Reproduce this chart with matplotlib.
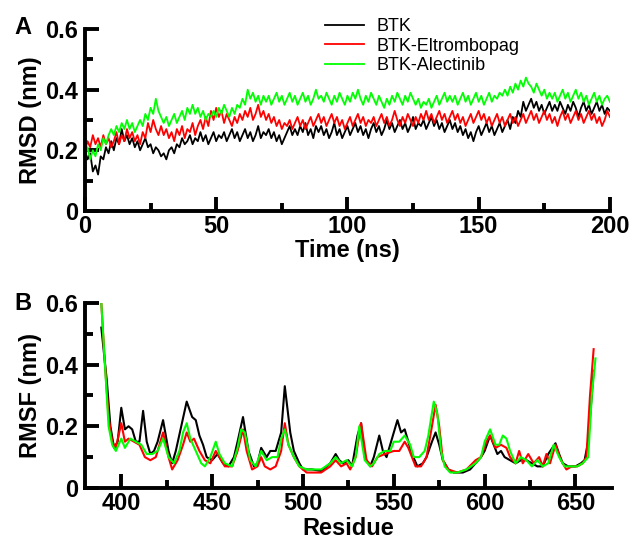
import numpy as np
import matplotlib
matplotlib.use("Agg")
import matplotlib.pyplot as plt
from matplotlib.ticker import MultipleLocator

plt.rcParams['font.family'] = ['Liberation Sans', 'DejaVu Sans']

# ---- RMSD data (nm), 1 ns steps, 0..200 ns ----
time_ns = np.arange(0, 201)

rmsd_btk = [
    0.20, 0.17, 0.19, 0.13, 0.15, 0.12, 0.18, 0.17, 0.21, 0.19,
    0.23, 0.20, 0.24, 0.22, 0.27, 0.23, 0.25, 0.22, 0.24, 0.21,
    0.23, 0.20, 0.22, 0.24, 0.21, 0.22, 0.19, 0.21, 0.20, 0.18,
    0.19, 0.17, 0.20, 0.21, 0.19, 0.22, 0.21, 0.24, 0.22, 0.23,
    0.25, 0.22, 0.24, 0.23, 0.26, 0.23, 0.25, 0.22, 0.24, 0.26,
    0.23, 0.25, 0.24, 0.26, 0.23, 0.25, 0.27, 0.24, 0.26, 0.23,
    0.25, 0.27, 0.24, 0.26, 0.23, 0.25, 0.28, 0.24, 0.26, 0.25,
    0.27, 0.24, 0.26, 0.23, 0.25, 0.22, 0.24, 0.26, 0.28, 0.25,
    0.27, 0.25, 0.28, 0.26, 0.29, 0.25, 0.27, 0.24, 0.28, 0.26,
    0.28, 0.25, 0.27, 0.24, 0.26, 0.29, 0.25, 0.27, 0.24, 0.26,
    0.28, 0.25, 0.27, 0.29, 0.26, 0.28, 0.25, 0.27, 0.24, 0.27,
    0.29, 0.26, 0.28, 0.25, 0.27, 0.30, 0.27, 0.29, 0.26, 0.28,
    0.30, 0.27, 0.29, 0.26, 0.28, 0.31, 0.27, 0.29, 0.28, 0.30,
    0.27, 0.29, 0.31, 0.28, 0.30, 0.27, 0.29, 0.26, 0.28, 0.30,
    0.27, 0.29, 0.26, 0.28, 0.25, 0.27, 0.24, 0.26, 0.23, 0.26,
    0.28, 0.25, 0.27, 0.29, 0.26, 0.28, 0.25, 0.27, 0.29, 0.26,
    0.28, 0.30, 0.27, 0.31, 0.29, 0.33, 0.31, 0.36, 0.33, 0.35,
    0.37, 0.34, 0.36, 0.33, 0.35, 0.32, 0.34, 0.36, 0.33, 0.35,
    0.33, 0.36, 0.34, 0.32, 0.35, 0.33, 0.36, 0.34, 0.31, 0.34,
    0.36, 0.33, 0.35, 0.32, 0.34, 0.36, 0.33, 0.35, 0.32, 0.34,
    0.33,
]

rmsd_eltrombopag = [
    0.20, 0.23, 0.21, 0.25, 0.22, 0.24, 0.21, 0.25, 0.22, 0.24,
    0.21, 0.23, 0.26, 0.22, 0.25, 0.23, 0.27, 0.24, 0.26, 0.23,
    0.25, 0.22, 0.26, 0.24, 0.29, 0.26, 0.30, 0.27, 0.25, 0.28,
    0.25, 0.27, 0.24, 0.26, 0.23, 0.27, 0.25, 0.28, 0.24, 0.27,
    0.26, 0.29, 0.25, 0.28, 0.30, 0.27, 0.31, 0.28, 0.33, 0.30,
    0.34, 0.31, 0.33, 0.29, 0.32, 0.30, 0.28, 0.31, 0.29, 0.32,
    0.30, 0.33, 0.31, 0.34, 0.30, 0.32, 0.35, 0.31, 0.33, 0.30,
    0.32, 0.29, 0.31, 0.28, 0.30, 0.27, 0.29, 0.28, 0.30, 0.27,
    0.29, 0.31, 0.28, 0.30, 0.27, 0.29, 0.31, 0.28, 0.30, 0.32,
    0.29, 0.31, 0.28, 0.30, 0.32, 0.29, 0.31, 0.28, 0.30, 0.27,
    0.29, 0.31, 0.28, 0.30, 0.32, 0.29, 0.31, 0.28, 0.30, 0.29,
    0.31, 0.28, 0.30, 0.32, 0.29, 0.31, 0.28, 0.30, 0.33, 0.30,
    0.28, 0.31, 0.29, 0.32, 0.30, 0.28, 0.31, 0.29, 0.32, 0.30,
    0.33, 0.30, 0.32, 0.29, 0.31, 0.33, 0.30, 0.32, 0.29, 0.31,
    0.33, 0.30, 0.32, 0.29, 0.31, 0.28, 0.30, 0.32, 0.29, 0.31,
    0.33, 0.30, 0.32, 0.29, 0.31, 0.28, 0.30, 0.32, 0.29, 0.31,
    0.28, 0.30, 0.32, 0.29, 0.31, 0.28, 0.30, 0.32, 0.29, 0.31,
    0.33, 0.30, 0.32, 0.29, 0.31, 0.33, 0.30, 0.32, 0.29, 0.31,
    0.28, 0.31, 0.33, 0.30, 0.32, 0.29, 0.31, 0.33, 0.30, 0.32,
    0.29, 0.31, 0.33, 0.30, 0.32, 0.29, 0.31, 0.28, 0.30, 0.33,
    0.31,
]

rmsd_alectinib = [
    0.18, 0.21, 0.17, 0.20, 0.18, 0.22, 0.20, 0.24, 0.22, 0.25,
    0.27, 0.25, 0.28, 0.26, 0.29, 0.27, 0.30, 0.27, 0.29, 0.26,
    0.28, 0.30, 0.28, 0.32, 0.30, 0.34, 0.32, 0.37, 0.33, 0.31,
    0.29, 0.31, 0.28, 0.30, 0.32, 0.29, 0.31, 0.33, 0.30, 0.34,
    0.32, 0.35, 0.32, 0.34, 0.31, 0.33, 0.30, 0.32, 0.31, 0.33,
    0.31, 0.34, 0.32, 0.35, 0.33, 0.31, 0.34, 0.32, 0.35, 0.34,
    0.37, 0.35, 0.40, 0.37, 0.39, 0.36, 0.38, 0.35, 0.38, 0.36,
    0.38, 0.35, 0.37, 0.39, 0.36, 0.38, 0.35, 0.37, 0.39, 0.36,
    0.38, 0.35, 0.37, 0.39, 0.36, 0.38, 0.35, 0.37, 0.40, 0.37,
    0.38, 0.36, 0.39, 0.37, 0.35, 0.38, 0.36, 0.39, 0.37, 0.35,
    0.38, 0.36, 0.39, 0.37, 0.40, 0.37, 0.35, 0.38, 0.36, 0.39,
    0.37, 0.35, 0.38, 0.36, 0.34, 0.37, 0.35, 0.38, 0.36, 0.39,
    0.37, 0.35, 0.38, 0.36, 0.39, 0.37, 0.35, 0.37, 0.34, 0.36,
    0.35, 0.37, 0.34, 0.36, 0.38, 0.35, 0.37, 0.39, 0.36, 0.38,
    0.36, 0.38, 0.35, 0.37, 0.39, 0.36, 0.38, 0.35, 0.37, 0.39,
    0.36, 0.38, 0.35, 0.37, 0.39, 0.36, 0.38, 0.37, 0.39, 0.38,
    0.40, 0.38, 0.41, 0.39, 0.42, 0.40, 0.43, 0.41, 0.44, 0.42,
    0.41, 0.39, 0.42, 0.40, 0.38, 0.40, 0.37, 0.39, 0.37, 0.39,
    0.36, 0.38, 0.40, 0.37, 0.39, 0.36, 0.38, 0.40, 0.37, 0.39,
    0.36, 0.38, 0.35, 0.37, 0.39, 0.36, 0.38, 0.35, 0.37, 0.38,
    0.36,
]

# ---- RMSF data (nm) per residue ----
res_btk = [389, 392, 394, 396, 398, 400, 402, 404, 406, 408, 410, 412, 414, 416, 418,
           420, 423, 426, 428, 430, 433, 436, 439, 441, 443, 445, 447, 450, 453, 456,
           459, 462, 464, 467, 470, 473, 475, 477, 480, 482, 485, 488, 490, 493, 495,
           498, 500, 505, 510, 515, 518, 520, 522, 525, 527, 530, 532, 534, 537, 539,
           542, 544, 546, 548, 552, 554, 556, 558, 560, 563, 566, 568, 571, 573, 575,
           577, 580, 583, 588, 592, 595, 598, 600, 603, 605, 607, 609, 611, 614, 617,
           620, 623, 626, 629, 632, 635, 639, 641, 643, 646, 650, 653, 655, 657, 660]
rmsf_btk = [0.52, 0.35, 0.20, 0.13, 0.15, 0.26, 0.19, 0.20, 0.19, 0.15, 0.15, 0.25, 0.15, 0.11, 0.12,
            0.15, 0.22, 0.12, 0.08, 0.12, 0.20, 0.28, 0.23, 0.22, 0.17, 0.14, 0.10, 0.09, 0.11, 0.08,
            0.07, 0.10, 0.15, 0.23, 0.12, 0.07, 0.08, 0.13, 0.10, 0.12, 0.12, 0.18, 0.33, 0.18, 0.12,
            0.08, 0.06, 0.06, 0.055, 0.08, 0.11, 0.09, 0.08, 0.09, 0.07, 0.17, 0.21, 0.10, 0.07, 0.10,
            0.17, 0.12, 0.10, 0.14, 0.22, 0.18, 0.19, 0.15, 0.11, 0.07, 0.08, 0.10, 0.15, 0.18, 0.14,
            0.09, 0.06, 0.05, 0.05, 0.06, 0.08, 0.10, 0.12, 0.17, 0.14, 0.11, 0.12, 0.10, 0.09, 0.08,
            0.09, 0.09, 0.08, 0.07, 0.07, 0.11, 0.145, 0.11, 0.08, 0.07, 0.07, 0.08, 0.09, 0.15, 0.38]

res_elt = [389, 391, 393, 395, 397, 400, 402, 404, 407, 410, 413, 416, 419, 423, 426,
           428, 431, 434, 436, 438, 440, 443, 446, 449, 452, 454, 457, 461, 464, 467,
           469, 472, 475, 477, 479, 482, 485, 488, 490, 492, 495, 498, 502, 506, 510,
           515, 518, 521, 524, 526, 529, 532, 535, 538, 541, 545, 550, 553, 556, 558,
           562, 565, 568, 571, 573, 575, 577, 580, 585, 590, 595, 598, 601, 603, 606,
           609, 612, 614, 617, 619, 621, 624, 627, 630, 632, 634, 636, 639, 642, 645,
           648, 651, 654, 656, 658, 660]
rmsf_elt = [0.60, 0.40, 0.23, 0.15, 0.13, 0.21, 0.15, 0.16, 0.15, 0.14, 0.10, 0.09, 0.10, 0.18, 0.10,
            0.06, 0.09, 0.14, 0.18, 0.15, 0.16, 0.12, 0.09, 0.08, 0.12, 0.10, 0.07, 0.07, 0.12, 0.19,
            0.12, 0.06, 0.07, 0.10, 0.07, 0.06, 0.07, 0.12, 0.21, 0.14, 0.10, 0.07, 0.05, 0.05, 0.05,
            0.07, 0.09, 0.07, 0.08, 0.06, 0.10, 0.21, 0.09, 0.07, 0.10, 0.11, 0.12, 0.12, 0.15, 0.13,
            0.07, 0.07, 0.10, 0.20, 0.27, 0.20, 0.09, 0.06, 0.05, 0.06, 0.09, 0.10, 0.15, 0.17, 0.13,
            0.14, 0.13, 0.10, 0.08, 0.12, 0.08, 0.11, 0.08, 0.10, 0.07, 0.11, 0.08, 0.14, 0.09, 0.06,
            0.07, 0.07, 0.08, 0.10, 0.30, 0.45]

res_ale = [389, 391, 393, 395, 397, 400, 402, 405, 408, 411, 414, 417, 420, 423, 426,
           429, 432, 434, 436, 438, 441, 444, 446, 449, 452, 454, 457, 461, 464, 466,
           468, 471, 474, 477, 480, 483, 486, 488, 490, 492, 495, 498, 502, 506, 510,
           515, 518, 521, 524, 527, 529, 531, 534, 537, 539, 542, 545, 548, 550, 553,
           556, 559, 561, 564, 567, 569, 572, 574, 576, 578, 581, 585, 590, 595, 598,
           600, 603, 606, 608, 610, 612, 614, 617, 620, 623, 626, 629, 632, 635, 638,
           641, 644, 648, 651, 654, 657, 659, 661]
rmsf_ale = [0.60, 0.40, 0.20, 0.14, 0.12, 0.16, 0.13, 0.16, 0.15, 0.14, 0.11, 0.11, 0.12, 0.16, 0.10,
            0.08, 0.12, 0.18, 0.21, 0.16, 0.12, 0.08, 0.07, 0.10, 0.15, 0.11, 0.08, 0.07, 0.13, 0.19,
            0.18, 0.09, 0.07, 0.12, 0.09, 0.10, 0.10, 0.16, 0.19, 0.14, 0.10, 0.07, 0.06, 0.06, 0.06,
            0.08, 0.10, 0.08, 0.09, 0.07, 0.10, 0.20, 0.09, 0.07, 0.08, 0.11, 0.12, 0.12, 0.15, 0.15,
            0.17, 0.14, 0.10, 0.10, 0.12, 0.17, 0.28, 0.24, 0.12, 0.07, 0.05, 0.05, 0.06, 0.08, 0.10,
            0.15, 0.19, 0.14, 0.14, 0.17, 0.16, 0.12, 0.08, 0.10, 0.09, 0.07, 0.09, 0.07, 0.08, 0.14,
            0.10, 0.07, 0.07, 0.07, 0.08, 0.10, 0.30, 0.42]

labels = ["BTK", "BTK-Eltrombopag", "BTK-Alectinib"]
colors = ["black", "#ff0000", "#00ff00"]

fig = plt.figure(figsize=(6.34, 5.38), dpi=100)
ax1 = fig.add_axes([0.134, 0.608, 0.828, 0.338])
ax2 = fig.add_axes([0.134, 0.093, 0.831, 0.344])

for y, c, lab in zip([rmsd_btk, rmsd_eltrombopag, rmsd_alectinib], colors, labels):
    ax1.plot(time_ns, y, color=c, lw=1.3, label=lab)

ax2.plot(res_btk, rmsf_btk, color=colors[0], lw=1.5)
ax2.plot(res_elt, rmsf_elt, color=colors[1], lw=1.5)
ax2.plot(res_ale, rmsf_ale, color=colors[2], lw=1.5)

ax1.set_xlim(0, 200)
ax1.set_ylim(0, 0.6)
ax1.xaxis.set_major_locator(MultipleLocator(50))
ax1.xaxis.set_minor_locator(MultipleLocator(25))
ax1.set_yticks([0, 0.2, 0.4, 0.6])
ax1.set_yticklabels(["0", "0.2", "0.4", "0.6"])
ax1.yaxis.set_minor_locator(MultipleLocator(0.1))
ax1.set_xlabel("Time (ns)", fontsize=17, fontweight="bold", labelpad=1)
ax1.set_ylabel("RMSD (nm)", fontsize=17, fontweight="bold", labelpad=2)

ax2.set_xlim(380, 670)
ax2.set_ylim(0, 0.6)
ax2.xaxis.set_major_locator(MultipleLocator(50))
ax2.xaxis.set_minor_locator(MultipleLocator(25))
ax2.set_yticks([0, 0.2, 0.4, 0.6])
ax2.set_yticklabels(["0", "0.2", "0.4", "0.6"])
ax2.yaxis.set_minor_locator(MultipleLocator(0.1))
ax2.set_xlabel("Residue", fontsize=17, fontweight="bold", labelpad=1)
ax2.set_ylabel("RMSF (nm)", fontsize=17, fontweight="bold", labelpad=2)

for ax in (ax1, ax2):
    for s in ("top", "right"):
        ax.spines[s].set_visible(False)
    for s in ("left", "bottom"):
        ax.spines[s].set_linewidth(2.8)
    ax.tick_params(which="major", direction="in", length=10, width=2.8, labelsize=17)
    ax.tick_params(which="minor", direction="in", length=6, width=2.8)
    ax.tick_params(axis="x", which="major", pad=3)
    ax.tick_params(axis="y", which="major", pad=5)
    for t in ax.get_xticklabels() + ax.get_yticklabels():
        t.set_fontweight("bold")

ax1.legend(loc="upper left", bbox_to_anchor=(0.495, 0.987), bbox_transform=fig.transFigure,
           frameon=False, fontsize=13, handlelength=2.2, handletextpad=0.65,
           labelspacing=0.15, borderaxespad=0.2)

fig.text(0.022, 0.937, "A", fontsize=17, fontweight="bold")
fig.text(0.022, 0.424, "B", fontsize=17, fontweight="bold")

fig.savefig("out.png", dpi=100)
